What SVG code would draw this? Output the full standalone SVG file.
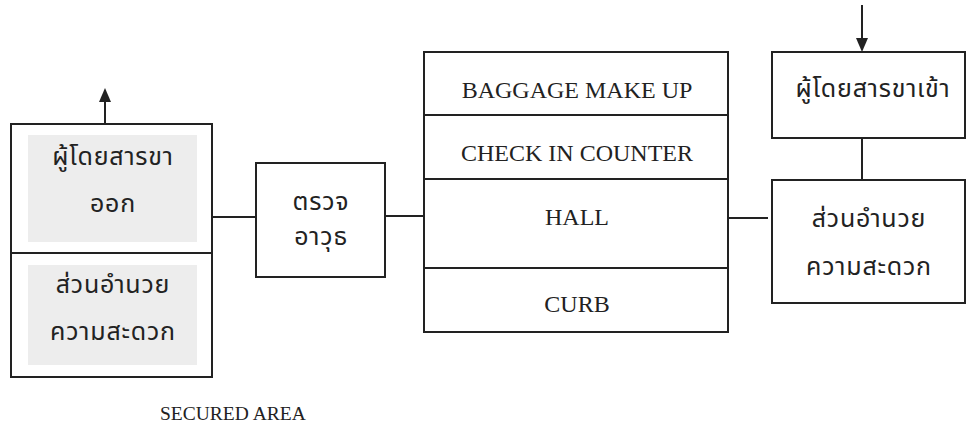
<svg xmlns="http://www.w3.org/2000/svg" width="967" height="429" viewBox="0 0 967 429">
<style>
.box{fill:#fff;stroke:#222;stroke-width:2}
.div{stroke:#222;stroke-width:2}
.shade{fill:#ededed}
.con{stroke:#222;stroke-width:2;fill:none}
.head{fill:#222}
.en{font-family:"Liberation Serif","Times New Roman",serif;font-size:24px;fill:#222;text-anchor:middle}
.th{font-family:"Noto Sans Thai","Noto Serif Thai","DejaVu Sans","Noto Sans",sans-serif;font-size:25px;letter-spacing:0.8px;fill:#222;text-anchor:middle}
</style>
<g id="connectors">
<line class="con" x1="105" y1="124" x2="105" y2="100"/>
<polygon class="head" points="105,88 99,102 111,102"/>
<line class="con" x1="862" y1="5" x2="862" y2="40"/>
<polygon class="head" points="862,52 856,38 868,38"/>
<line class="con" x1="212" y1="217" x2="256" y2="217"/>
<line class="con" x1="385" y1="216" x2="424" y2="216"/>
<line class="con" x1="728" y1="218" x2="768" y2="218"/>
<line class="con" x1="862" y1="138" x2="862" y2="180"/>
</g>
<g id="departure">
<rect class="box" x="11" y="124" width="201" height="253"/>
<rect class="shade" x="28" y="135" width="169" height="107"/>
<rect class="shade" x="28" y="265" width="169" height="100"/>
<line class="div" x1="11" y1="253" x2="212" y2="253"/>
<text class="th" x="113" y="165">ผู้โดยสารขา</text>
<text class="th" x="113" y="212">ออก</text>
<text class="th" x="113" y="293">ส่วนอำนวย</text>
<text class="th" x="113" y="340">ความสะดวก</text>
</g>
<g id="security">
<rect class="box" x="256" y="163" width="129" height="114"/>
<text class="th" x="321" y="210">ตรวจ</text>
<text class="th" x="321" y="245">อาวุธ</text>
</g>
<g id="terminal">
<rect class="box" x="424" y="52" width="304" height="280"/>
<line class="div" x1="424" y1="115" x2="728" y2="115"/>
<line class="div" x1="424" y1="179" x2="728" y2="179"/>
<line class="div" x1="424" y1="268" x2="728" y2="268"/>
<text class="en" x="577" y="98">BAGGAGE MAKE UP</text>
<text class="en" x="577" y="161">CHECK IN COUNTER</text>
<text class="en" x="577" y="225">HALL</text>
<text class="en" x="577" y="312">CURB</text>
</g>
<g id="arrival">
<rect class="box" x="772" y="52" width="193" height="86"/>
<text class="th" x="873" y="97">ผู้โดยสารขาเข้า</text>
</g>
<g id="arrival-facilities">
<rect class="box" x="772" y="180" width="193" height="123"/>
<text class="th" x="869" y="227">ส่วนอำนวย</text>
<text class="th" x="869" y="275">ความสะดวก</text>
</g>
<text class="en" x="160" y="420" style="text-anchor:start;font-size:19.5px">SECURED AREA</text>
</svg>
